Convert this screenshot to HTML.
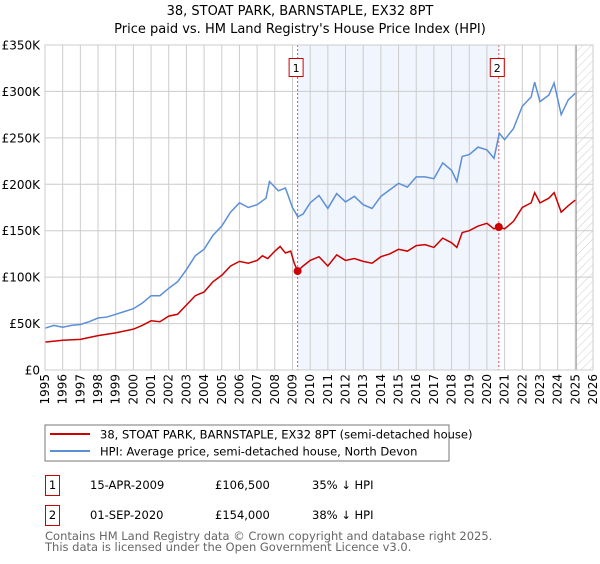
<!DOCTYPE html>
<html><head><meta charset="utf-8"><style>
body{margin:0;background:#fff;font-family:"DejaVu Sans","Liberation Sans",sans-serif;}
svg text{font-family:"DejaVu Sans","Liberation Sans",sans-serif;}
</style></head><body>
<svg id="c" width="600" height="560" viewBox="0 0 600 560" xmlns="http://www.w3.org/2000/svg">
<defs><pattern id="hatch" width="6" height="6" patternUnits="userSpaceOnUse" patternTransform="rotate(45)"><line x1="0" y1="0" x2="0" y2="6" stroke="#ccc" stroke-width="1"/></pattern></defs>
<text x="300" y="15" text-anchor="middle" font-size="13" fill="#000">38, STOAT PARK, BARNSTAPLE, EX32 8PT</text>
<text x="300" y="33" text-anchor="middle" font-size="13" fill="#000">Price paid vs. HM Land Registry's House Price Index (HPI)</text>
<g id="plot"></g>
<rect x="45" y="425" width="404" height="36" fill="#fff" stroke="#777"/>
<line x1="50" y1="434" x2="90" y2="434" stroke="#cc0000" stroke-width="2"/>
<text x="100" y="438.5" font-size="11.5">38, STOAT PARK, BARNSTAPLE, EX32 8PT (semi-detached house)</text>
<line x1="50" y1="451" x2="90" y2="451" stroke="#5b8fd6" stroke-width="2"/>
<text x="100" y="455.5" font-size="11.5">HPI: Average price, semi-detached house, North Devon</text>
<g>
<rect x="45.5" y="475.5" width="14" height="20" fill="#fff" stroke="#cc0000"/>
<text x="52.5" y="489" text-anchor="middle" font-size="11.5">1</text>
<text x="90" y="489" font-size="11.5">15-APR-2009</text>
<text x="215" y="489" font-size="11.5">£106,500</text>
<text x="312" y="489" font-size="11.5">35% ↓ HPI</text></g>
<g>
<rect x="45.5" y="505.5" width="14" height="20" fill="#fff" stroke="#cc0000"/>
<text x="52.5" y="519" text-anchor="middle" font-size="11.5">2</text>
<text x="90" y="519" font-size="11.5">01-SEP-2020</text>
<text x="215" y="519" font-size="11.5">£154,000</text>
<text x="312" y="519" font-size="11.5">38% ↓ HPI</text></g>
<text x="45" y="540" font-size="11.5" fill="#666">Contains HM Land Registry data © Crown copyright and database right 2025.</text>
<text x="45" y="551" font-size="11.5" fill="#666">This data is licensed under the Open Government Licence v3.0.</text>
</svg>
<script>
const hpiYears=[1995,1995.5,1996,1996.5,1997,1997.5,1998,1998.5,1999,1999.5,2000,2000.5,2001,2001.5,2002,2002.5,2003,2003.5,2004,2004.5,2005,2005.5,2006,2006.5,2007,2007.5,2007.7,2008.2,2008.6,2009,2009.3,2009.6,2010,2010.5,2011,2011.5,2012,2012.5,2013,2013.5,2014,2014.5,2015,2015.5,2016,2016.5,2017,2017.5,2018,2018.3,2018.6,2019,2019.5,2020,2020.4,2020.7,2021,2021.5,2022,2022.5,2022.7,2023,2023.5,2023.8,2024.2,2024.6,2025];
const hpiValues=[45,48,46,48,49,52,56,57,60,63,66,72,80,80,88,95,108,123,130,145,155,170,180,175,178,185,203,193,196,175,165,168,180,188,174,190,181,187,178,174,187,194,201,197,208,208,206,223,215,203,230,232,240,237,228,255,248,260,284,294,310,289,296,309,275,291,298];
const ppYears=[1995,1996,1997,1998,1999,2000,2000.5,2001,2001.5,2002,2002.5,2003,2003.5,2004,2004.5,2005,2005.5,2006,2006.5,2007,2007.3,2007.6,2008,2008.3,2008.6,2008.9,2009.1,2009.29,2009.6,2010,2010.5,2011,2011.5,2012,2012.5,2013,2013.5,2014,2014.5,2015,2015.5,2016,2016.5,2017,2017.5,2018,2018.3,2018.6,2019,2019.5,2020,2020.4,2020.67,2021,2021.5,2022,2022.5,2022.7,2023,2023.5,2023.8,2024.2,2024.6,2025];
const ppValues=[30,32,33,37,40,44,48,53,52,58,60,70,80,84,95,102,112,117,115,118,123,120,128,133,126,128,115,106.5,112,118,122,112,124,118,120,117,115,122,125,130,128,134,135,132,142,137,132,148,150,155,158,152,154,152,160,175,180,191,180,185,191,170,177,183];
const saleYears=[2009.29,2020.67];
const saleValues=[106.5,154];
const saleLabels=["1","2"];
const yTicks=[0,50,100,150,200,250,300,350];
const yTickLabels=["£0","£50K","£100K","£150K","£200K","£250K","£300K","£350K"];
const xTicks=[1995,1996,1997,1998,1999,2000,2001,2002,2003,2004,2005,2006,2007,2008,2009,2010,2011,2012,2013,2014,2015,2016,2017,2018,2019,2020,2021,2022,2023,2024,2025,2026];

const X0=45,X1=593,Y0=370,Y1=45;
const xs=y=>X0+(y-1995)/(2026-1995)*(X1-X0);
const ys=v=>Y0-v/350*(Y0-Y1);
const NS="http://www.w3.org/2000/svg";
const g=document.getElementById('plot');
function mk(t,a){const e=document.createElementNS(NS,t);for(const k in a)e.setAttribute(k,a[k]);g.appendChild(e);return e;}
let e;
e=mk('rect',{x:xs(saleYears[0]),y:Y1,width:xs(saleYears[1])-xs(saleYears[0]),height:Y0-Y1,fill:'#eef3fc',opacity:0.8});


e=mk('rect',{x:xs(2025.05),y:Y1,width:X1-xs(2025.05),height:Y0-Y1,fill:'url(#hatch)'});


xTicks.forEach(t=>{e=mk('line',{x1:xs(t),x2:xs(t),y1:Y1,y2:Y0,stroke:'#ccc'});


e=mk('text',{x:0,y:0,'font-size':12,'text-anchor':'end',transform:`translate(${xs(t)+4},${Y0+4}) rotate(-90)`});e.textContent=t;

});
yTicks.forEach((t,i)=>{e=mk('line',{x1:X0,x2:X1,y1:ys(t),y2:ys(t),stroke:'#ccc'});


e=mk('text',{x:X0-5,y:ys(t)+4.5,'font-size':12,'text-anchor':'end'});e.textContent=yTickLabels[i];

});
e=mk('line',{x1:xs(2025.05),x2:xs(2025.05),y1:Y1,y2:Y0,stroke:'#999'});


saleYears.forEach((s,i)=>{e=mk('line',{x1:xs(s),x2:xs(s),y1:Y1,y2:Y0,stroke:'#e05555','stroke-dasharray':'2,2'});

});
e=mk('polyline',{points:hpiYears.map((y,i)=>xs(y)+','+ys(hpiValues[i])).join(' '),fill:'none',stroke:'#5b8fd6','stroke-width':1.5});


e=mk('polyline',{points:ppYears.map((y,i)=>xs(y)+','+ys(ppValues[i])).join(' '),fill:'none',stroke:'#cc0000','stroke-width':1.5});


saleYears.forEach((s,i)=>{e=mk('circle',{cx:xs(s),cy:ys(saleValues[i]),r:4,fill:'#cc0000'});


e=mk('rect',{x:xs(s)-8.5,y:58.5,width:14,height:18,fill:'#fff',stroke:'#cc0000'});


e=mk('text',{x:xs(s)-1.5,y:72,'font-size':11,'text-anchor':'middle'});e.textContent=saleLabels[i];

});
e=mk('rect',{x:X0,y:Y1,width:X1-X0,height:Y0-Y1,fill:'none',stroke:'#ccc'});


</script>
</body></html>
